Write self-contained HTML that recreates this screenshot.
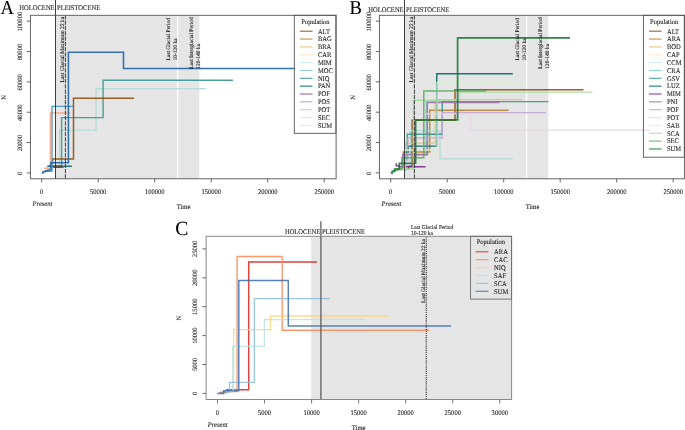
<!DOCTYPE html>
<html><head><meta charset="utf-8"><style>
html,body{margin:0;padding:0;background:#fff;width:685px;height:430px;overflow:hidden}
svg{display:block;font-family:"Liberation Serif", serif;will-change:transform;text-rendering:geometricPrecision}
text{stroke:#1a1a1a;stroke-width:0.1px}
</style></head><body>
<svg width="685" height="430" viewBox="0 0 685 430" font-family='"Liberation Serif", serif'>
<rect width="685" height="430" fill="#fff"/>
<rect x="55.50" y="15.3" width="143.80" height="163.5" fill="#e5e5e5"/>
<line x1="177.60" y1="15.30" x2="177.60" y2="178.80" stroke="#ffffff" stroke-width="1.3"/>
<polyline points="44.10,168.30 50.30,168.30 50.30,113.00 70.50,113.00" fill="none" stroke="#f4a582" stroke-width="1.4" stroke-linejoin="miter" stroke-linecap="butt" stroke-opacity="0.9"/>
<polyline points="55.00,166.00 59.70,166.00 59.70,130.10 96.00,130.10 96.00,88.60 206.00,88.60" fill="none" stroke="#acdad3" stroke-width="1.3" stroke-linejoin="miter" stroke-linecap="butt" stroke-opacity="0.9"/>
<polyline points="47.00,166.90 48.20,166.00 61.60,166.00 61.60,117.60 103.10,117.60 103.10,80.20 233.00,80.20" fill="none" stroke="#35978f" stroke-width="1.4" stroke-linejoin="miter" stroke-linecap="butt" stroke-opacity="0.9"/>
<polyline points="48.20,166.20 71.90,166.20" fill="none" stroke="#01665e" stroke-width="1.4" stroke-linejoin="miter" stroke-linecap="butt" stroke-opacity="0.9"/>
<polyline points="52.60,167.30 63.50,167.30" fill="none" stroke="#b2182b" stroke-width="1.4" stroke-linejoin="miter" stroke-linecap="butt" stroke-opacity="0.9"/>
<polyline points="52.60,164.30 52.60,159.10 73.50,159.10 73.50,98.30 134.00,98.30" fill="none" stroke="#8c510a" stroke-width="1.5" stroke-linejoin="miter" stroke-linecap="butt" stroke-opacity="0.9"/>
<polyline points="45.00,171.20 52.00,171.20 52.00,106.40 73.50,106.40" fill="none" stroke="#4393c3" stroke-width="1.4" stroke-linejoin="miter" stroke-linecap="butt" stroke-opacity="0.9"/>
<polyline points="41.80,172.90 43.00,172.90 43.00,171.80 45.50,171.80 45.50,170.80 48.00,170.80 48.00,170.00 50.80,170.00 50.80,162.70 68.40,162.70 68.40,52.30 123.50,52.30 123.50,68.40 294.50,68.40" fill="none" stroke="#1f62a8" stroke-width="1.55" stroke-linejoin="miter" stroke-linecap="butt" stroke-opacity="0.9"/>
<line x1="55.50" y1="0.00" x2="55.50" y2="178.80" stroke="#2a2a2a" stroke-width="0.9"/>
<line x1="65.40" y1="15.30" x2="65.40" y2="178.80" stroke="#2a2a2a" stroke-width="0.9" stroke-dasharray="4.2,1.1"/>
<rect x="30.40" y="15.3" width="305.70" height="163.5" fill="none" stroke="#555" stroke-width="0.9"/>
<line x1="26.80" y1="172.90" x2="30.40" y2="172.90" stroke="#555" stroke-width="0.9"/>
<text x="21.60" y="173.40" font-size="6.6" text-anchor="middle" transform="rotate(-90 21.60 173.40)" fill="#1a1a1a">0</text>
<line x1="26.80" y1="142.55" x2="30.40" y2="142.55" stroke="#555" stroke-width="0.9"/>
<text x="21.60" y="143.05" font-size="6.6" text-anchor="middle" transform="rotate(-90 21.60 143.05)" fill="#1a1a1a">20000</text>
<line x1="26.80" y1="112.20" x2="30.40" y2="112.20" stroke="#555" stroke-width="0.9"/>
<text x="21.60" y="112.70" font-size="6.6" text-anchor="middle" transform="rotate(-90 21.60 112.70)" fill="#1a1a1a">40000</text>
<line x1="26.80" y1="81.85" x2="30.40" y2="81.85" stroke="#555" stroke-width="0.9"/>
<text x="21.60" y="82.35" font-size="6.6" text-anchor="middle" transform="rotate(-90 21.60 82.35)" fill="#1a1a1a">60000</text>
<line x1="26.80" y1="51.50" x2="30.40" y2="51.50" stroke="#555" stroke-width="0.9"/>
<text x="21.60" y="52.00" font-size="6.6" text-anchor="middle" transform="rotate(-90 21.60 52.00)" fill="#1a1a1a">80000</text>
<line x1="26.80" y1="21.15" x2="30.40" y2="21.15" stroke="#555" stroke-width="0.9"/>
<text x="21.60" y="21.65" font-size="6.6" text-anchor="middle" transform="rotate(-90 21.60 21.65)" fill="#1a1a1a">100000</text>
<line x1="41.70" y1="178.80" x2="41.70" y2="182.40" stroke="#555" stroke-width="0.9"/>
<text transform="translate(41.70,193.60) scale(0.93,1)" font-size="7.05" text-anchor="middle" fill="#1a1a1a">0</text>
<line x1="98.20" y1="178.80" x2="98.20" y2="182.40" stroke="#555" stroke-width="0.9"/>
<text transform="translate(98.20,193.60) scale(0.93,1)" font-size="7.05" text-anchor="middle" fill="#1a1a1a">50000</text>
<line x1="154.70" y1="178.80" x2="154.70" y2="182.40" stroke="#555" stroke-width="0.9"/>
<text transform="translate(154.70,193.60) scale(0.93,1)" font-size="7.05" text-anchor="middle" fill="#1a1a1a">100000</text>
<line x1="211.20" y1="178.80" x2="211.20" y2="182.40" stroke="#555" stroke-width="0.9"/>
<text transform="translate(211.20,193.60) scale(0.93,1)" font-size="7.05" text-anchor="middle" fill="#1a1a1a">150000</text>
<line x1="267.70" y1="178.80" x2="267.70" y2="182.40" stroke="#555" stroke-width="0.9"/>
<text transform="translate(267.70,193.60) scale(0.93,1)" font-size="7.05" text-anchor="middle" fill="#1a1a1a">200000</text>
<line x1="324.20" y1="178.80" x2="324.20" y2="182.40" stroke="#555" stroke-width="0.9"/>
<text transform="translate(324.20,193.60) scale(0.93,1)" font-size="7.05" text-anchor="middle" fill="#1a1a1a">250000</text>
<text x="5.60" y="97.30" font-size="6.6" text-anchor="middle" transform="rotate(-90 5.60 97.30)" fill="#1a1a1a">N</text>
<text transform="translate(183.50,209.30) scale(0.93,1)" font-size="7.05" text-anchor="middle" fill="#1a1a1a">Time</text>
<text transform="translate(32.60,205.90) scale(0.93,1)" font-size="7.05" text-anchor="start" font-style="italic" fill="#1a1a1a">Present</text>
<text transform="translate(19.30,9.90) scale(0.93,1)" font-size="7.05" text-anchor="start" fill="#1a1a1a">HOLOCENE</text>
<text transform="translate(57.00,9.90) scale(0.93,1)" font-size="7.05" text-anchor="start" fill="#1a1a1a">PLEISTOCENE</text>
<text transform="translate(0.50,13.9) scale(0.95,1)" font-size="19.6" fill="#000">A</text>
<text x="64.30" y="82.40" font-size="5.6" text-anchor="start" transform="rotate(-90 64.30 82.40)" fill="#1a1a1a">Last Glacial Maximum 22 ka</text>
<text x="169.80" y="60.50" font-size="5.5" text-anchor="start" transform="rotate(-90 169.80 60.50)" fill="#1a1a1a">Last Glacial Period</text>
<text x="176.70" y="60.50" font-size="5.5" text-anchor="start" transform="rotate(-90 176.70 60.50)" fill="#1a1a1a">10-120 ka</text>
<text x="192.90" y="68.80" font-size="5.5" text-anchor="start" transform="rotate(-90 192.90 68.80)" fill="#1a1a1a">Last Interglacial Period</text>
<text x="199.70" y="68.80" font-size="5.5" text-anchor="start" transform="rotate(-90 199.70 68.80)" fill="#1a1a1a">120-140 ka</text>
<rect x="294.30" y="15.3" width="41.60" height="118.00" fill="none" stroke="#555" stroke-width="0.9"/>
<text transform="translate(315.40,23.80) scale(0.93,1)" font-size="7.0" text-anchor="middle" fill="#1a1a1a">Population</text>
<line x1="299.90" y1="31.20" x2="312.50" y2="31.20" stroke="#8c510a" stroke-width="1.15" stroke-opacity="0.85"/>
<text transform="translate(317.90,33.50) scale(0.93,1)" font-size="7.0" text-anchor="start" fill="#1a1a1a">ALT</text>
<line x1="299.90" y1="39.05" x2="312.50" y2="39.05" stroke="#bf812d" stroke-width="1.15" stroke-opacity="0.85"/>
<text transform="translate(317.90,41.35) scale(0.93,1)" font-size="7.0" text-anchor="start" fill="#1a1a1a">BAG</text>
<line x1="299.90" y1="46.90" x2="312.50" y2="46.90" stroke="#dfc27d" stroke-width="1.15" stroke-opacity="0.85"/>
<text transform="translate(317.90,49.20) scale(0.93,1)" font-size="7.0" text-anchor="start" fill="#1a1a1a">BRA</text>
<line x1="299.90" y1="54.75" x2="312.50" y2="54.75" stroke="#f6e8c3" stroke-width="1.15" stroke-opacity="0.85"/>
<text transform="translate(317.90,57.05) scale(0.93,1)" font-size="7.0" text-anchor="start" fill="#1a1a1a">CAR</text>
<line x1="299.90" y1="62.60" x2="312.50" y2="62.60" stroke="#c7eae5" stroke-width="1.15" stroke-opacity="0.85"/>
<text transform="translate(317.90,64.90) scale(0.93,1)" font-size="7.0" text-anchor="start" fill="#1a1a1a">MIM</text>
<line x1="299.90" y1="70.45" x2="312.50" y2="70.45" stroke="#80cdc1" stroke-width="1.15" stroke-opacity="0.85"/>
<text transform="translate(317.90,72.75) scale(0.93,1)" font-size="7.0" text-anchor="start" fill="#1a1a1a">MOC</text>
<line x1="299.90" y1="78.30" x2="312.50" y2="78.30" stroke="#35978f" stroke-width="1.15" stroke-opacity="0.85"/>
<text transform="translate(317.90,80.60) scale(0.93,1)" font-size="7.0" text-anchor="start" fill="#1a1a1a">NIQ</text>
<line x1="299.90" y1="86.15" x2="312.50" y2="86.15" stroke="#01665e" stroke-width="1.15" stroke-opacity="0.85"/>
<text transform="translate(317.90,88.45) scale(0.93,1)" font-size="7.0" text-anchor="start" fill="#1a1a1a">PAN</text>
<line x1="299.90" y1="94.00" x2="312.50" y2="94.00" stroke="#8a55a0" stroke-width="1.15" stroke-opacity="0.85"/>
<text transform="translate(317.90,96.30) scale(0.93,1)" font-size="7.0" text-anchor="start" fill="#1a1a1a">POF</text>
<line x1="299.90" y1="101.85" x2="312.50" y2="101.85" stroke="#b395c6" stroke-width="1.15" stroke-opacity="0.85"/>
<text transform="translate(317.90,104.15) scale(0.93,1)" font-size="7.0" text-anchor="start" fill="#1a1a1a">POS</text>
<line x1="299.90" y1="109.70" x2="312.50" y2="109.70" stroke="#cfbde0" stroke-width="1.15" stroke-opacity="0.85"/>
<text transform="translate(317.90,112.00) scale(0.93,1)" font-size="7.0" text-anchor="start" fill="#1a1a1a">POT</text>
<line x1="299.90" y1="117.55" x2="312.50" y2="117.55" stroke="#ecdcee" stroke-width="1.15" stroke-opacity="0.85"/>
<text transform="translate(317.90,119.85) scale(0.93,1)" font-size="7.0" text-anchor="start" fill="#1a1a1a">SEC</text>
<line x1="299.90" y1="125.40" x2="312.50" y2="125.40" stroke="#d9f0d3" stroke-width="1.15" stroke-opacity="0.85"/>
<text transform="translate(317.90,127.70) scale(0.93,1)" font-size="7.0" text-anchor="start" fill="#1a1a1a">SUM</text>
<rect x="404.50" y="15.3" width="143.80" height="163.5" fill="#e5e5e5"/>
<line x1="526.60" y1="15.30" x2="526.60" y2="178.80" stroke="#ffffff" stroke-width="1.3"/>
<polyline points="396.00,169.00 408.70,169.00 408.70,165.80 412.10,165.80 412.10,120.30 455.00,120.30 455.00,89.70 583.50,89.70" fill="none" stroke="#8c510a" stroke-width="1.5" stroke-linejoin="miter" stroke-linecap="butt" stroke-opacity="0.9"/>
<polyline points="394.00,170.00 403.20,170.00 403.20,151.90 429.70,151.90 429.70,110.30 508.60,110.30" fill="none" stroke="#bf812d" stroke-width="1.5" stroke-linejoin="miter" stroke-linecap="butt" stroke-opacity="0.9"/>
<polyline points="394.00,170.00 405.60,170.00 405.60,143.20 435.10,143.20 435.10,99.70 521.90,99.70" fill="none" stroke="#dfc27d" stroke-width="1.3" stroke-linejoin="miter" stroke-linecap="butt" stroke-opacity="0.9"/>
<polyline points="394.00,170.00 406.00,170.00 406.00,165.00 410.20,165.00 410.20,130.70 440.00,130.70 440.00,158.90 512.80,158.90" fill="none" stroke="#acdad3" stroke-width="1.3" stroke-linejoin="miter" stroke-linecap="butt" stroke-opacity="0.9"/>
<polyline points="394.00,170.00 406.00,170.00 406.00,155.00 426.20,155.00 426.20,101.20 442.40,101.20" fill="none" stroke="#80cdc1" stroke-width="1.3" stroke-linejoin="miter" stroke-linecap="butt" stroke-opacity="0.9"/>
<polyline points="394.00,170.00 404.00,170.00 404.00,158.00 407.30,158.00 407.30,134.30 442.30,134.30 442.30,101.60 548.50,101.60" fill="none" stroke="#35978f" stroke-width="1.4" stroke-linejoin="miter" stroke-linecap="butt" stroke-opacity="0.9"/>
<polyline points="394.00,170.00 405.00,170.00 405.00,152.00 408.40,152.00 408.40,146.10 436.80,146.10 436.80,73.70 512.80,73.70" fill="none" stroke="#01665e" stroke-width="1.4" stroke-linejoin="miter" stroke-linecap="butt" stroke-opacity="0.9"/>
<polyline points="396.20,163.20 396.20,165.80 399.00,165.80 399.00,166.80 425.60,166.80" fill="none" stroke="#762a83" stroke-width="1.5" stroke-linejoin="miter" stroke-linecap="butt" stroke-opacity="0.9"/>
<polyline points="394.00,170.00 402.70,170.00 402.70,154.50 427.30,154.50 427.30,102.40 499.50,102.40" fill="none" stroke="#9970ab" stroke-width="1.5" stroke-linejoin="miter" stroke-linecap="butt" stroke-opacity="0.9"/>
<polyline points="394.00,170.00 404.00,170.00 404.00,160.00 407.90,160.00 407.90,137.80 442.30,137.80 442.30,112.60 545.80,112.60" fill="none" stroke="#c2a5cf" stroke-width="1.3" stroke-linejoin="miter" stroke-linecap="butt" stroke-opacity="0.9"/>
<polyline points="394.00,170.00 405.00,170.00 405.00,163.00 414.70,163.00 414.70,113.90 470.50,113.90 470.50,130.10 650.00,130.10" fill="none" stroke="#e7d4e8" stroke-width="1.3" stroke-linejoin="miter" stroke-linecap="butt" stroke-opacity="0.9"/>
<polyline points="394.00,170.00 405.00,170.00 405.00,150.00 437.00,150.00 437.00,82.50 525.20,82.50" fill="none" stroke="#d9f0d3" stroke-width="1.3" stroke-linejoin="miter" stroke-linecap="butt" stroke-opacity="0.9"/>
<polyline points="394.00,170.00 400.00,169.00 413.50,169.00 413.50,100.20 459.50,100.20 459.50,92.10 592.40,92.10" fill="none" stroke="#a6dba0" stroke-width="1.4" stroke-linejoin="miter" stroke-linecap="butt" stroke-opacity="0.9"/>
<polyline points="393.00,171.00 397.00,170.00 401.80,169.00 401.80,157.80 423.80,157.80 423.80,90.90 486.40,90.90" fill="none" stroke="#5aae61" stroke-width="1.5" stroke-linejoin="miter" stroke-linecap="butt" stroke-opacity="0.9"/>
<polyline points="390.60,172.90 392.30,172.90 392.30,171.30 394.60,171.30 394.60,169.00 399.30,169.00 399.30,163.30 415.60,163.20 415.60,119.80 457.60,119.80 457.60,37.90 570.10,37.90" fill="none" stroke="#1b7837" stroke-width="1.7" stroke-linejoin="miter" stroke-linecap="butt" stroke-opacity="0.9"/>
<line x1="404.50" y1="0.00" x2="404.50" y2="178.80" stroke="#2a2a2a" stroke-width="0.9"/>
<line x1="414.40" y1="15.30" x2="414.40" y2="178.80" stroke="#2a2a2a" stroke-width="0.9" stroke-dasharray="4.2,1.1"/>
<rect x="379.40" y="15.3" width="305.00" height="163.5" fill="none" stroke="#555" stroke-width="0.9"/>
<line x1="375.80" y1="172.90" x2="379.40" y2="172.90" stroke="#555" stroke-width="0.9"/>
<text x="370.60" y="173.40" font-size="6.6" text-anchor="middle" transform="rotate(-90 370.60 173.40)" fill="#1a1a1a">0</text>
<line x1="375.80" y1="142.55" x2="379.40" y2="142.55" stroke="#555" stroke-width="0.9"/>
<text x="370.60" y="143.05" font-size="6.6" text-anchor="middle" transform="rotate(-90 370.60 143.05)" fill="#1a1a1a">20000</text>
<line x1="375.80" y1="112.20" x2="379.40" y2="112.20" stroke="#555" stroke-width="0.9"/>
<text x="370.60" y="112.70" font-size="6.6" text-anchor="middle" transform="rotate(-90 370.60 112.70)" fill="#1a1a1a">40000</text>
<line x1="375.80" y1="81.85" x2="379.40" y2="81.85" stroke="#555" stroke-width="0.9"/>
<text x="370.60" y="82.35" font-size="6.6" text-anchor="middle" transform="rotate(-90 370.60 82.35)" fill="#1a1a1a">60000</text>
<line x1="375.80" y1="51.50" x2="379.40" y2="51.50" stroke="#555" stroke-width="0.9"/>
<text x="370.60" y="52.00" font-size="6.6" text-anchor="middle" transform="rotate(-90 370.60 52.00)" fill="#1a1a1a">80000</text>
<line x1="375.80" y1="21.15" x2="379.40" y2="21.15" stroke="#555" stroke-width="0.9"/>
<text x="370.60" y="21.65" font-size="6.6" text-anchor="middle" transform="rotate(-90 370.60 21.65)" fill="#1a1a1a">100000</text>
<line x1="390.70" y1="178.80" x2="390.70" y2="182.40" stroke="#555" stroke-width="0.9"/>
<text transform="translate(390.70,193.60) scale(0.93,1)" font-size="7.05" text-anchor="middle" fill="#1a1a1a">0</text>
<line x1="447.20" y1="178.80" x2="447.20" y2="182.40" stroke="#555" stroke-width="0.9"/>
<text transform="translate(447.20,193.60) scale(0.93,1)" font-size="7.05" text-anchor="middle" fill="#1a1a1a">50000</text>
<line x1="503.70" y1="178.80" x2="503.70" y2="182.40" stroke="#555" stroke-width="0.9"/>
<text transform="translate(503.70,193.60) scale(0.93,1)" font-size="7.05" text-anchor="middle" fill="#1a1a1a">100000</text>
<line x1="560.20" y1="178.80" x2="560.20" y2="182.40" stroke="#555" stroke-width="0.9"/>
<text transform="translate(560.20,193.60) scale(0.93,1)" font-size="7.05" text-anchor="middle" fill="#1a1a1a">150000</text>
<line x1="616.70" y1="178.80" x2="616.70" y2="182.40" stroke="#555" stroke-width="0.9"/>
<text transform="translate(616.70,193.60) scale(0.93,1)" font-size="7.05" text-anchor="middle" fill="#1a1a1a">200000</text>
<line x1="673.20" y1="178.80" x2="673.20" y2="182.40" stroke="#555" stroke-width="0.9"/>
<text transform="translate(673.20,193.60) scale(0.93,1)" font-size="7.05" text-anchor="middle" fill="#1a1a1a">250000</text>
<text x="354.60" y="97.30" font-size="6.6" text-anchor="middle" transform="rotate(-90 354.60 97.30)" fill="#1a1a1a">N</text>
<text transform="translate(532.50,209.30) scale(0.93,1)" font-size="7.05" text-anchor="middle" fill="#1a1a1a">Time</text>
<text transform="translate(381.60,205.90) scale(0.93,1)" font-size="7.05" text-anchor="start" font-style="italic" fill="#1a1a1a">Present</text>
<text transform="translate(368.30,11.90) scale(0.93,1)" font-size="7.05" text-anchor="start" fill="#1a1a1a">HOLOCENE</text>
<text transform="translate(406.00,11.90) scale(0.93,1)" font-size="7.05" text-anchor="start" fill="#1a1a1a">PLEISTOCENE</text>
<text transform="translate(349.50,13.9) scale(0.95,1)" font-size="19.6" fill="#000">B</text>
<text x="413.30" y="82.40" font-size="5.6" text-anchor="start" transform="rotate(-90 413.30 82.40)" fill="#1a1a1a">Last Glacial Maximum 22 ka</text>
<text x="518.80" y="60.50" font-size="5.5" text-anchor="start" transform="rotate(-90 518.80 60.50)" fill="#1a1a1a">Last Glacial Period</text>
<text x="525.70" y="60.50" font-size="5.5" text-anchor="start" transform="rotate(-90 525.70 60.50)" fill="#1a1a1a">10-120 ka</text>
<text x="541.90" y="68.80" font-size="5.5" text-anchor="start" transform="rotate(-90 541.90 68.80)" fill="#1a1a1a">Last Interglacial Period</text>
<text x="548.70" y="68.80" font-size="5.5" text-anchor="start" transform="rotate(-90 548.70 68.80)" fill="#1a1a1a">120-140 ka</text>
<rect x="643.40" y="15.3" width="40.90" height="141.90" fill="none" stroke="#555" stroke-width="0.9"/>
<text transform="translate(664.15,23.80) scale(0.93,1)" font-size="7.0" text-anchor="middle" fill="#1a1a1a">Population</text>
<line x1="649.00" y1="31.20" x2="661.60" y2="31.20" stroke="#8c510a" stroke-width="1.15" stroke-opacity="0.85"/>
<text transform="translate(667.00,33.50) scale(0.93,1)" font-size="7.0" text-anchor="start" fill="#1a1a1a">ALT</text>
<line x1="649.00" y1="39.05" x2="661.60" y2="39.05" stroke="#bf812d" stroke-width="1.15" stroke-opacity="0.85"/>
<text transform="translate(667.00,41.35) scale(0.93,1)" font-size="7.0" text-anchor="start" fill="#1a1a1a">ARA</text>
<line x1="649.00" y1="46.90" x2="661.60" y2="46.90" stroke="#dfc27d" stroke-width="1.15" stroke-opacity="0.85"/>
<text transform="translate(667.00,49.20) scale(0.93,1)" font-size="7.0" text-anchor="start" fill="#1a1a1a">BOD</text>
<line x1="649.00" y1="54.75" x2="661.60" y2="54.75" stroke="#f6e8c3" stroke-width="1.15" stroke-opacity="0.85"/>
<text transform="translate(667.00,57.05) scale(0.93,1)" font-size="7.0" text-anchor="start" fill="#1a1a1a">CAP</text>
<line x1="649.00" y1="62.60" x2="661.60" y2="62.60" stroke="#c7eae5" stroke-width="1.15" stroke-opacity="0.85"/>
<text transform="translate(667.00,64.90) scale(0.93,1)" font-size="7.0" text-anchor="start" fill="#1a1a1a">CCM</text>
<line x1="649.00" y1="70.45" x2="661.60" y2="70.45" stroke="#80cdc1" stroke-width="1.15" stroke-opacity="0.85"/>
<text transform="translate(667.00,72.75) scale(0.93,1)" font-size="7.0" text-anchor="start" fill="#1a1a1a">CRA</text>
<line x1="649.00" y1="78.30" x2="661.60" y2="78.30" stroke="#35978f" stroke-width="1.15" stroke-opacity="0.85"/>
<text transform="translate(667.00,80.60) scale(0.93,1)" font-size="7.0" text-anchor="start" fill="#1a1a1a">GSV</text>
<line x1="649.00" y1="86.15" x2="661.60" y2="86.15" stroke="#01665e" stroke-width="1.15" stroke-opacity="0.85"/>
<text transform="translate(667.00,88.45) scale(0.93,1)" font-size="7.0" text-anchor="start" fill="#1a1a1a">LUZ</text>
<line x1="649.00" y1="94.00" x2="661.60" y2="94.00" stroke="#762a83" stroke-width="1.15" stroke-opacity="0.85"/>
<text transform="translate(667.00,96.30) scale(0.93,1)" font-size="7.0" text-anchor="start" fill="#1a1a1a">MIM</text>
<line x1="649.00" y1="101.85" x2="661.60" y2="101.85" stroke="#9970ab" stroke-width="1.15" stroke-opacity="0.85"/>
<text transform="translate(667.00,104.15) scale(0.93,1)" font-size="7.0" text-anchor="start" fill="#1a1a1a">PNI</text>
<line x1="649.00" y1="109.70" x2="661.60" y2="109.70" stroke="#c2a5cf" stroke-width="1.15" stroke-opacity="0.85"/>
<text transform="translate(667.00,112.00) scale(0.93,1)" font-size="7.0" text-anchor="start" fill="#1a1a1a">POF</text>
<line x1="649.00" y1="117.55" x2="661.60" y2="117.55" stroke="#e7d4e8" stroke-width="1.15" stroke-opacity="0.85"/>
<text transform="translate(667.00,119.85) scale(0.93,1)" font-size="7.0" text-anchor="start" fill="#1a1a1a">POT</text>
<line x1="649.00" y1="125.40" x2="661.60" y2="125.40" stroke="#d9f0d3" stroke-width="1.15" stroke-opacity="0.85"/>
<text transform="translate(667.00,127.70) scale(0.93,1)" font-size="7.0" text-anchor="start" fill="#1a1a1a">SAB</text>
<line x1="649.00" y1="133.25" x2="661.60" y2="133.25" stroke="#a6dba0" stroke-width="1.15" stroke-opacity="0.85"/>
<text transform="translate(667.00,135.55) scale(0.93,1)" font-size="7.0" text-anchor="start" fill="#1a1a1a">SCA</text>
<line x1="649.00" y1="141.10" x2="661.60" y2="141.10" stroke="#5aae61" stroke-width="1.15" stroke-opacity="0.85"/>
<text transform="translate(667.00,143.40) scale(0.93,1)" font-size="7.0" text-anchor="start" fill="#1a1a1a">SEC</text>
<line x1="649.00" y1="148.95" x2="661.60" y2="148.95" stroke="#1b7837" stroke-width="1.15" stroke-opacity="0.85"/>
<text transform="translate(667.00,151.25) scale(0.93,1)" font-size="7.0" text-anchor="start" fill="#1a1a1a">SUM</text>
<rect x="311.2" y="236.3" width="200.40" height="163.20" fill="#e5e5e5"/>
<polyline points="219.50,392.60 226.80,392.60 226.80,389.80 248.70,389.80 248.70,262.10 317.00,262.10" fill="none" stroke="#d73027" stroke-width="1.5" stroke-linejoin="miter" stroke-linecap="butt" stroke-opacity="0.9"/>
<polyline points="224.00,391.50 237.10,391.50 237.10,256.50 282.20,256.50 282.20,330.30 429.30,330.30" fill="none" stroke="#fc8d59" stroke-width="1.4" stroke-linejoin="miter" stroke-linecap="butt" stroke-opacity="0.9"/>
<polyline points="228.00,391.50 233.60,391.50 233.60,329.60 270.50,329.60 270.50,316.00 390.00,316.00" fill="none" stroke="#f9d77c" stroke-width="1.3" stroke-linejoin="miter" stroke-linecap="butt" stroke-opacity="0.9"/>
<polyline points="226.00,391.50 232.70,391.50 232.70,346.30 264.40,346.30 264.40,319.70 364.90,319.70" fill="none" stroke="#bde1e6" stroke-width="1.3" stroke-linejoin="miter" stroke-linecap="butt" stroke-opacity="0.9"/>
<polyline points="221.00,393.00 224.20,392.00 229.50,392.00 229.50,382.40 254.40,382.40 254.40,298.60 329.70,298.60" fill="none" stroke="#91bfdb" stroke-width="1.3" stroke-linejoin="miter" stroke-linecap="butt" stroke-opacity="0.9"/>
<polyline points="217.20,393.50 223.60,393.50 223.60,390.80 238.80,390.80 238.80,280.40 288.30,280.40 288.30,326.10 451.00,326.10" fill="none" stroke="#4575b4" stroke-width="1.5" stroke-linejoin="miter" stroke-linecap="butt" stroke-opacity="0.9"/>
<line x1="320.90" y1="221.30" x2="320.90" y2="399.50" stroke="#5a5a5a" stroke-width="1.25"/>
<line x1="426.30" y1="236.30" x2="426.30" y2="399.50" stroke="#444" stroke-width="1.2" stroke-dasharray="1.2,0.9"/>
<rect x="206.10" y="236.3" width="305.50" height="163.20" fill="none" stroke="#888" stroke-width="1.0"/>
<line x1="202.50" y1="393.40" x2="206.10" y2="393.40" stroke="#555" stroke-width="0.9"/>
<text x="196.60" y="393.40" font-size="6.6" text-anchor="middle" transform="rotate(-90 196.60 393.40)" fill="#1a1a1a">0</text>
<line x1="202.50" y1="364.50" x2="206.10" y2="364.50" stroke="#555" stroke-width="0.9"/>
<text x="196.60" y="364.50" font-size="6.6" text-anchor="middle" transform="rotate(-90 196.60 364.50)" fill="#1a1a1a">5000</text>
<line x1="202.50" y1="335.60" x2="206.10" y2="335.60" stroke="#555" stroke-width="0.9"/>
<text x="196.60" y="335.60" font-size="6.6" text-anchor="middle" transform="rotate(-90 196.60 335.60)" fill="#1a1a1a">10000</text>
<line x1="202.50" y1="306.70" x2="206.10" y2="306.70" stroke="#555" stroke-width="0.9"/>
<text x="196.60" y="306.70" font-size="6.6" text-anchor="middle" transform="rotate(-90 196.60 306.70)" fill="#1a1a1a">15000</text>
<line x1="202.50" y1="277.80" x2="206.10" y2="277.80" stroke="#555" stroke-width="0.9"/>
<text x="196.60" y="277.80" font-size="6.6" text-anchor="middle" transform="rotate(-90 196.60 277.80)" fill="#1a1a1a">20000</text>
<line x1="202.50" y1="248.90" x2="206.10" y2="248.90" stroke="#555" stroke-width="0.9"/>
<text x="196.60" y="248.90" font-size="6.6" text-anchor="middle" transform="rotate(-90 196.60 248.90)" fill="#1a1a1a">25000</text>
<line x1="217.50" y1="399.50" x2="217.50" y2="403.50" stroke="#666" stroke-width="0.9"/>
<text transform="translate(217.50,414.50) scale(0.93,1)" font-size="7.05" text-anchor="middle" fill="#1a1a1a">0</text>
<line x1="264.55" y1="399.50" x2="264.55" y2="403.50" stroke="#666" stroke-width="0.9"/>
<text transform="translate(264.55,414.50) scale(0.93,1)" font-size="7.05" text-anchor="middle" fill="#1a1a1a">5000</text>
<line x1="311.60" y1="399.50" x2="311.60" y2="403.50" stroke="#666" stroke-width="0.9"/>
<text transform="translate(311.60,414.50) scale(0.93,1)" font-size="7.05" text-anchor="middle" fill="#1a1a1a">10000</text>
<line x1="358.65" y1="399.50" x2="358.65" y2="403.50" stroke="#666" stroke-width="0.9"/>
<text transform="translate(358.65,414.50) scale(0.93,1)" font-size="7.05" text-anchor="middle" fill="#1a1a1a">15000</text>
<line x1="405.70" y1="399.50" x2="405.70" y2="403.50" stroke="#666" stroke-width="0.9"/>
<text transform="translate(405.70,414.50) scale(0.93,1)" font-size="7.05" text-anchor="middle" fill="#1a1a1a">20000</text>
<line x1="452.75" y1="399.50" x2="452.75" y2="403.50" stroke="#666" stroke-width="0.9"/>
<text transform="translate(452.75,414.50) scale(0.93,1)" font-size="7.05" text-anchor="middle" fill="#1a1a1a">25000</text>
<line x1="499.80" y1="399.50" x2="499.80" y2="403.50" stroke="#666" stroke-width="0.9"/>
<text transform="translate(499.80,414.50) scale(0.93,1)" font-size="7.05" text-anchor="middle" fill="#1a1a1a">30000</text>
<text x="180.60" y="318.20" font-size="6.6" text-anchor="middle" transform="rotate(-90 180.60 318.20)" fill="#1a1a1a">N</text>
<text transform="translate(358.60,430.00) scale(0.93,1)" font-size="7.05" text-anchor="middle" fill="#1a1a1a">Time</text>
<text transform="translate(207.70,426.70) scale(0.93,1)" font-size="7.05" text-anchor="start" font-style="italic" fill="#1a1a1a">Present</text>
<text transform="translate(284.90,233.70) scale(0.93,1)" font-size="7.05" text-anchor="start" fill="#1a1a1a">HOLOCENE</text>
<text transform="translate(321.90,233.70) scale(0.93,1)" font-size="7.05" text-anchor="start" fill="#1a1a1a">PLEISTOCENE</text>
<text transform="translate(175.2,235.4) scale(0.97,1)" font-size="20.2" fill="#000">C</text>
<text transform="translate(410.90,228.50) scale(0.93,1)" font-size="5.9" text-anchor="start" fill="#1a1a1a">Last Glacial Period</text>
<text transform="translate(410.90,235.20) scale(0.93,1)" font-size="5.9" text-anchor="start" fill="#1a1a1a">10-120 ka</text>
<text x="424.60" y="302.70" font-size="5.45" text-anchor="start" transform="rotate(-90 424.60 302.70)" fill="#1a1a1a">Last Glacial Maximum 22 ka</text>
<rect x="470.60" y="236.3" width="41.00" height="62.80" fill="none" stroke="#6a6a6a" stroke-width="0.9"/>
<text transform="translate(490.80,244.00) scale(0.93,1)" font-size="7.0" text-anchor="middle" fill="#1a1a1a">Population</text>
<line x1="475.70" y1="251.80" x2="488.40" y2="251.80" stroke="#d73027" stroke-width="1.25" stroke-opacity="0.8"/>
<text transform="translate(494.10,254.20) scale(0.93,1)" font-size="7.0" text-anchor="start" fill="#1a1a1a">ARA</text>
<line x1="475.70" y1="259.70" x2="488.40" y2="259.70" stroke="#fc8d59" stroke-width="1.25" stroke-opacity="0.8"/>
<text transform="translate(494.10,262.10) scale(0.93,1)" font-size="7.0" text-anchor="start" fill="#1a1a1a">CAC</text>
<line x1="475.70" y1="267.60" x2="488.40" y2="267.60" stroke="#f9d77c" stroke-width="1.25" stroke-opacity="0.8"/>
<text transform="translate(494.10,270.00) scale(0.93,1)" font-size="7.0" text-anchor="start" fill="#1a1a1a">NIQ</text>
<line x1="475.70" y1="275.50" x2="488.40" y2="275.50" stroke="#bde1e6" stroke-width="1.25" stroke-opacity="0.8"/>
<text transform="translate(494.10,277.90) scale(0.93,1)" font-size="7.0" text-anchor="start" fill="#1a1a1a">SAF</text>
<line x1="475.70" y1="283.40" x2="488.40" y2="283.40" stroke="#91bfdb" stroke-width="1.25" stroke-opacity="0.8"/>
<text transform="translate(494.10,285.80) scale(0.93,1)" font-size="7.0" text-anchor="start" fill="#1a1a1a">SCA</text>
<line x1="475.70" y1="291.30" x2="488.40" y2="291.30" stroke="#4575b4" stroke-width="1.25" stroke-opacity="0.8"/>
<text transform="translate(494.10,293.70) scale(0.93,1)" font-size="7.0" text-anchor="start" fill="#1a1a1a">SUM</text>
</svg>
</body></html>
